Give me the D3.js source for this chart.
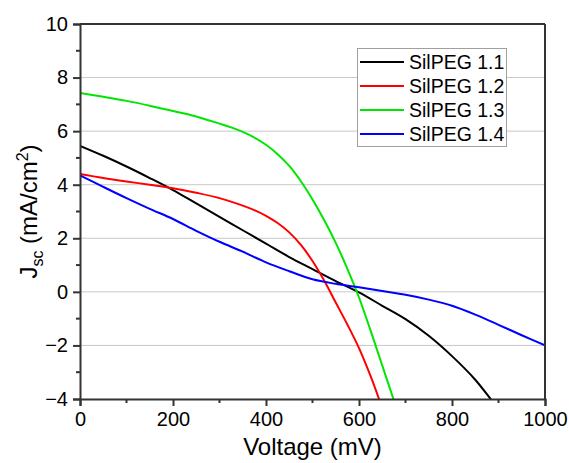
<!DOCTYPE html>
<html><head><meta charset="utf-8">
<script src="https://cdn.jsdelivr.net/npm/d3@7"></script>
<style>body{margin:0;background:#fff;} text{font-family:Arial,"Liberation Sans",sans-serif;}</style>
</head><body><svg id="c" width="569" height="463"></svg>
<script>
const seriesNames = ["SilPEG 1.1","SilPEG 1.2","SilPEG 1.3","SilPEG 1.4"];
const seriesColors = ["#000000","#ff0000","#00e600","#0000ff"];
const v11 = [0,50,100,150,200,250,300,350,400,450,500,550,600,650,700,750,800,850,883,890];
const j11 = [5.45,5.08,4.68,4.25,3.8,3.3,2.8,2.3,1.8,1.3,0.85,0.4,-0.02,-0.52,-1.02,-1.64,-2.4,-3.28,-4.0,-4.15];
const v12 = [0,50,100,150,200,250,300,350,375,400,425,450,475,500,525,550,575,600,625,643,650];
const j12 = [4.4,4.25,4.12,4.0,3.87,3.7,3.5,3.22,3.05,2.84,2.57,2.22,1.75,1.15,0.42,-0.4,-1.22,-2.1,-3.15,-4.0,-4.35];
const v13 = [0,50,100,150,200,250,300,325,350,375,400,425,450,475,500,525,550,575,600,625,650,675,680];
const j13 = [7.42,7.28,7.13,6.95,6.75,6.55,6.28,6.14,5.97,5.76,5.49,5.14,4.7,4.13,3.45,2.68,1.83,0.86,-0.21,-1.45,-2.75,-4.05,-4.3];
const v14 = [0,50,100,150,200,250,300,350,400,450,500,550,600,650,700,750,800,850,900,950,1000];
const j14 = [4.35,3.92,3.5,3.1,2.72,2.28,1.87,1.5,1.1,0.77,0.47,0.3,0.17,0.03,-0.11,-0.29,-0.52,-0.85,-1.23,-1.62,-2.0];
const xTicks = [0,200,400,600,800,1000];
const yTicks = [-4,-2,0,2,4,6,8,10];
const xTitle = "Voltage (mV)";

const svg = d3.select("#c");
const L=80,R=545,T=24,B=399;
const x = d3.scaleLinear().domain([0,1000]).range([L,R]);
const y = d3.scaleLinear().domain([-4,10]).range([B,T]);
const axisCol="#333";

svg.append("g").selectAll("line").data(yTicks.filter(d=>d>-4&&d<10)).join("line")
  .attr("x1",L).attr("x2",R).attr("y1",d=>y(d)).attr("y2",d=>y(d))
  .attr("stroke","#c8c8c8").attr("stroke-width",1);

svg.append("clipPath").attr("id","clip").append("rect").attr("x",L).attr("y",T).attr("width",R-L).attr("height",B-T);

const data = [[v11,j11],[v12,j12],[v13,j13],[v14,j14]];
const line = d3.line().x(d=>x(d[0])).y(d=>y(d[1])).curve(d3.curveCatmullRom.alpha(0.5));
const g = svg.append("g").attr("clip-path","url(#clip)");
data.forEach((s,i)=>{
  const pts = s[0].map((v,k)=>[v,s[1][k]]);
  g.append("path").datum(pts).attr("d",line).attr("fill","none")
   .attr("stroke",seriesColors[i]).attr("stroke-width",2);
});

svg.append("line").attr("x1",L).attr("x2",R).attr("y1",T).attr("y2",T).attr("stroke",axisCol).attr("stroke-width",2);
svg.append("line").attr("x1",R).attr("x2",R).attr("y1",T).attr("y2",B).attr("stroke",axisCol).attr("stroke-width",2);

const xAxis = d3.axisBottom(x).tickValues(xTicks).tickSize(7).tickPadding(6).tickFormat(d3.format("d"));
const gx = svg.append("g").attr("transform",`translate(0,${B})`).call(xAxis);
const yAxis = d3.axisLeft(y).tickValues(yTicks).tickSize(7).tickPadding(5).tickFormat(d3.format("d"));
const gy = svg.append("g").attr("transform",`translate(${L},0)`).call(yAxis);
[gx,gy].forEach(a=>{
  a.select(".domain").attr("stroke",axisCol).attr("stroke-width",2);
  a.selectAll(".tick line").attr("stroke",axisCol).attr("stroke-width",2);
  a.selectAll(".tick text").attr("fill","#000").style("font-size","20px").style("font-family","Arial, 'Liberation Sans', sans-serif");
});
svg.append("g").selectAll("line").data([100,300,500,700,900]).join("line")
  .attr("x1",d=>x(d)).attr("x2",d=>x(d)).attr("y1",B).attr("y2",B+4).attr("stroke",axisCol).attr("stroke-width",2);
svg.append("g").selectAll("line").data([-3,-1,1,3,5,7,9]).join("line")
  .attr("x1",L-4).attr("x2",L).attr("y1",d=>y(d)).attr("y2",d=>y(d)).attr("stroke",axisCol).attr("stroke-width",2);

svg.append("text").attr("x",(L+R)/2).attr("y",455).attr("text-anchor","middle").style("font-size","24px").text(xTitle);
const yt = svg.append("text").attr("transform",`translate(37,${(T+B)/2}) rotate(-90)`).attr("text-anchor","middle").style("font-size","24px");
yt.append("tspan").text("J");
yt.append("tspan").attr("dy",6).style("font-size","16px").text("sc");
yt.append("tspan").attr("dy",-6).text(" (mA/cm");
yt.append("tspan").attr("dy",-9).style("font-size","16px").text("2");
yt.append("tspan").attr("dy",9).text(")");

const lg = svg.append("g");
lg.append("rect").attr("x",357.5).attr("y",48.5).attr("width",149).attr("height",98)
  .attr("fill","#fff").attr("stroke","#a0a0a0").attr("stroke-width",1);
seriesNames.forEach((n,i)=>{
  const yy = 62 + i*24;
  lg.append("line").attr("x1",360).attr("x2",404).attr("y1",yy).attr("y2",yy).attr("stroke",seriesColors[i]).attr("stroke-width",2);
  lg.append("text").attr("x",409).attr("y",yy+7).style("font-size","19.5px").text(n);
});
</script></body></html>
